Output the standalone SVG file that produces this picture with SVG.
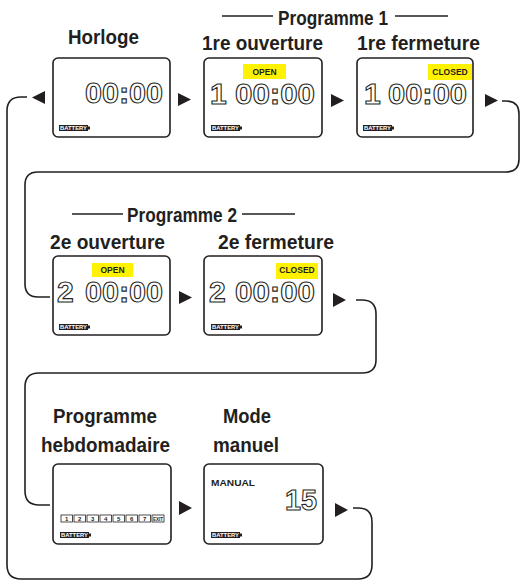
<svg xmlns="http://www.w3.org/2000/svg" width="521" height="582" viewBox="0 0 521 582">
<defs>
<style>
.bg{fill:#ffffff}
.box{fill:#ffffff;stroke:#231f20;stroke-width:1.6}
.lbl{font-family:"Liberation Sans",Arial,sans-serif;font-weight:bold;font-size:21px;fill:#231f20}
.hdr{font-family:"Liberation Sans",Arial,sans-serif;font-weight:bold;font-size:20px;fill:#231f20}
.rule{stroke:#231f20;stroke-width:1.3}
.seg{font-family:"Liberation Sans",Arial,sans-serif;font-weight:bold;font-size:30px;fill:#ffffff;stroke:#231f20;stroke-width:1.1;opacity:0.99}
.tag{fill:#fff200}
.tagt{font-family:"Liberation Sans",Arial,sans-serif;font-weight:bold;font-size:8.5px;fill:#231f20;text-anchor:middle}
.bat{fill:#231f20}
.batt{font-family:"Liberation Sans",Arial,sans-serif;font-weight:bold;font-size:5px;fill:#ffffff}
.day{fill:#ffffff;stroke:#231f20;stroke-width:0.8}
.dayt{font-family:"Liberation Sans",Arial,sans-serif;font-weight:bold;font-size:6px;fill:#231f20;text-anchor:middle}
.con{fill:none;stroke:#231f20;stroke-width:1.6}
.arr{fill:#231f20}
</style>
<g id="battery">
<rect class="bat" x="0" y="0" width="29" height="6"/>
<rect class="bat" x="29" y="1.5" width="2" height="3"/>
<text class="batt" x="1" y="5" textLength="27" lengthAdjust="spacingAndGlyphs">BATTERY</text>
</g>
</defs>
<rect class="bg" x="0" y="0" width="521" height="582"/>

<g id="headers">
<line class="rule" x1="222" y1="16" x2="273" y2="16"/>
<text class="hdr" x="278" y="25" textLength="110" lengthAdjust="spacingAndGlyphs">Programme 1</text>
<line class="rule" x1="395" y1="16" x2="448" y2="16"/>
<line class="rule" x1="72" y1="214" x2="123" y2="214"/>
<text class="hdr" x="127" y="222" textLength="110" lengthAdjust="spacingAndGlyphs">Programme 2</text>
<line class="rule" x1="242" y1="214" x2="295" y2="214"/>
</g>

<g id="connectors">
<path class="con" d="M 502 101 H 506 Q 519 101 519 114 V 159 Q 519 172 506 172 H 38 Q 25 172 25 185 V 284 Q 25 297 38 297 H 50"/>
<path class="con" d="M 356 300 H 362 Q 376 300 376 314 V 360 Q 376 373 362 373 H 39 Q 25 373 25 387 V 491 Q 25 505 39 505 H 50"/>
<path class="con" d="M 353 508 H 358 Q 372 508 372 522 V 565 Q 372 579 358 579 H 21 Q 7 579 7 565 V 111 Q 7 97 21 97 H 27"/>
<polygon class="arr" points="45,91 45,104 32,97.5"/>
<polygon class="arr" points="178,93 178,106 191,99.5"/>
<polygon class="arr" points="331,94 331,107 344,100.5"/>
<polygon class="arr" points="485,94 485,107 498,100.5"/>
<polygon class="arr" points="179,291 179,304 192,297.5"/>
<polygon class="arr" points="333,293 333,307 346,300"/>
<polygon class="arr" points="179,501 179,515 192,508"/>
<polygon class="arr" points="335,503 335,517 348,510"/>
</g>

<g id="horloge">
<text class="lbl" x="68" y="44" textLength="71" lengthAdjust="spacingAndGlyphs">Horloge</text>
<rect class="box" x="53" y="58" width="117" height="79" rx="5"/>
<text class="seg" x="85" y="103" textLength="78" lengthAdjust="spacingAndGlyphs">00:00</text>
<use href="#battery" x="59" y="125"/>
</g>

<g id="ouverture1">
<text class="lbl" x="202" y="50" textLength="121" lengthAdjust="spacingAndGlyphs">1re ouverture</text>
<rect class="box" x="204" y="58" width="118" height="79" rx="5"/>
<rect class="tag" x="243" y="64" width="43" height="15"/>
<text class="tagt" x="264.5" y="74.5">OPEN</text>
<text class="seg" x="210" y="104">1</text>
<text class="seg" x="235" y="104" textLength="80" lengthAdjust="spacingAndGlyphs">00:00</text>
<use href="#battery" x="211" y="125"/>
</g>

<g id="fermeture1">
<text class="lbl" x="357" y="50" textLength="123" lengthAdjust="spacingAndGlyphs">1re fermeture</text>
<rect class="box" x="357" y="58" width="116" height="79" rx="5"/>
<rect class="tag" x="428" y="64" width="44" height="16"/>
<text class="tagt" x="450" y="74.5">CLOSED</text>
<text class="seg" x="364" y="104">1</text>
<text class="seg" x="388" y="104" textLength="79" lengthAdjust="spacingAndGlyphs">00:00</text>
<use href="#battery" x="363" y="125"/>
</g>

<g id="ouverture2">
<text class="lbl" x="50" y="249" textLength="115" lengthAdjust="spacingAndGlyphs">2e ouverture</text>
<rect class="box" x="53" y="256" width="117" height="79" rx="5"/>
<rect class="tag" x="92" y="263" width="41" height="14"/>
<text class="tagt" x="112.5" y="272.5">OPEN</text>
<text class="seg" x="57" y="302">2</text>
<text class="seg" x="85" y="302" textLength="78" lengthAdjust="spacingAndGlyphs">00:00</text>
<use href="#battery" x="59" y="324"/>
</g>

<g id="fermeture2">
<text class="lbl" x="218" y="249" textLength="116" lengthAdjust="spacingAndGlyphs">2e fermeture</text>
<rect class="box" x="204" y="256" width="118" height="79" rx="5"/>
<rect class="tag" x="276" y="263" width="42" height="16"/>
<text class="tagt" x="297" y="272.5">CLOSED</text>
<text class="seg" x="209" y="302">2</text>
<text class="seg" x="235" y="302" textLength="80" lengthAdjust="spacingAndGlyphs">00:00</text>
<use href="#battery" x="211" y="324"/>
</g>

<g id="hebdomadaire">
<text class="lbl" x="53" y="423" textLength="104" lengthAdjust="spacingAndGlyphs">Programme</text>
<text class="lbl" x="41" y="452" textLength="129" lengthAdjust="spacingAndGlyphs">hebdomadaire</text>
<rect class="box" x="53" y="464" width="118" height="80" rx="5"/>
<rect class="day" x="61" y="515" width="11.5" height="7"/>
<text class="dayt" x="66.75" y="521">1</text>
<rect class="day" x="74" y="515" width="11.5" height="7"/>
<text class="dayt" x="79.75" y="521">2</text>
<rect class="day" x="87" y="515" width="11.5" height="7"/>
<text class="dayt" x="92.75" y="521">3</text>
<rect class="day" x="100" y="515" width="11.5" height="7"/>
<text class="dayt" x="105.75" y="521">4</text>
<rect class="day" x="113" y="515" width="11.5" height="7"/>
<text class="dayt" x="118.75" y="521">5</text>
<rect class="day" x="126" y="515" width="11.5" height="7"/>
<text class="dayt" x="131.75" y="521">6</text>
<rect class="day" x="139" y="515" width="11.5" height="7"/>
<text class="dayt" x="144.75" y="521">7</text>
<rect class="day" x="152" y="515" width="12" height="7"/>
<text class="dayt" x="158" y="520.5" font-size="5" textLength="10" lengthAdjust="spacingAndGlyphs">EXIT</text>
<use href="#battery" x="60" y="532"/>
</g>

<g id="manuel">
<text class="lbl" x="223" y="423" textLength="48" lengthAdjust="spacingAndGlyphs">Mode</text>
<text class="lbl" x="213" y="452" textLength="66" lengthAdjust="spacingAndGlyphs">manuel</text>
<rect class="box" x="204" y="464" width="119" height="80" rx="5"/>
<text x="211" y="486" font-family="Liberation Sans, Arial, sans-serif" font-weight="bold" font-size="8.5" fill="#231f20" textLength="44" lengthAdjust="spacingAndGlyphs">MANUAL</text>
<text class="seg" x="285" y="510" textLength="32" lengthAdjust="spacingAndGlyphs">15</text>
<use href="#battery" x="211" y="532"/>
</g>
</svg>
